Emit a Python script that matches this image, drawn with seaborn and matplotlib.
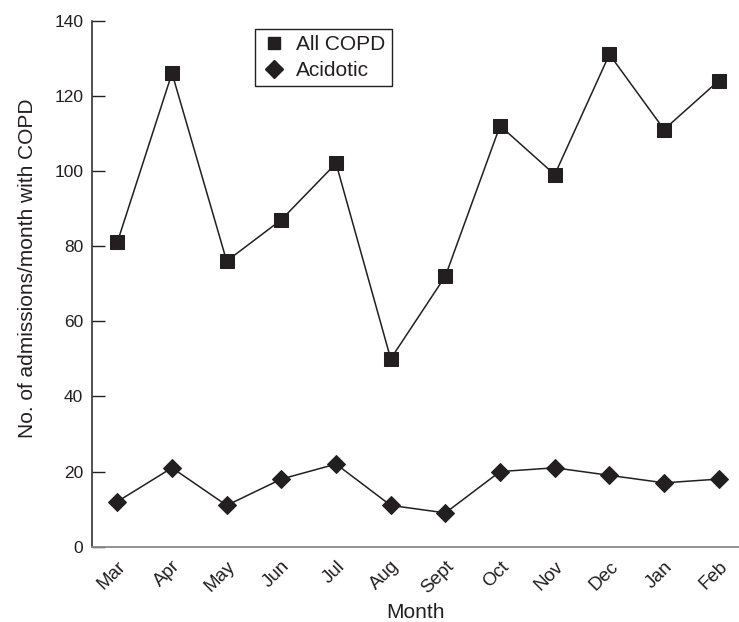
import numpy as np
import pandas as pd
import matplotlib
matplotlib.use("Agg")
import matplotlib.pyplot as plt
from matplotlib.lines import Line2D
import seaborn as sns

# === DATA ===
months = ["Mar", "Apr", "May", "Jun", "Jul", "Aug", "Sept", "Oct", "Nov", "Dec", "Jan", "Feb"]
all_copd = [81, 126, 76, 87, 102, 50, 72, 112, 99, 131, 111, 124]
acidotic = [12, 21, 11, 18, 22, 11, 9, 20, 21, 19, 17, 18]
y_ticks = [0, 20, 40, 60, 80, 100, 120, 140]

INK = "#231f20"

sns.set_theme(style="white")
plt.rcParams["font.family"] = ["Liberation Sans", "DejaVu Sans"]

df = pd.DataFrame({
    "pos": list(range(len(months))) * 2,
    "value": all_copd + acidotic,
    "series": ["All COPD"] * len(months) + ["Acidotic"] * len(months),
})

fig = plt.figure(figsize=(7.39, 6.22), dpi=100)
ax = fig.add_axes([0.124, 0.121, 0.876, 0.846])

sns.lineplot(data=df[df.series == "All COPD"], x="pos", y="value", ax=ax,
             color=INK, lw=1.1, marker="s", markersize=9.6, markeredgecolor=INK,
             markerfacecolor=INK, legend=False)
sns.lineplot(data=df[df.series == "Acidotic"], x="pos", y="value", ax=ax,
             color=INK, lw=1.1, marker="D", markersize=9.5, markeredgecolor=INK,
             markerfacecolor=INK, legend=False)

ax.set_xlim(-0.47, len(months) - 1 + 0.37)
ax.set_ylim(0, 140)
ax.set_yticks(y_ticks)
ax.set_xticks(range(len(months)))
ax.set_xticklabels(months, rotation=45, ha="right", rotation_mode="anchor", fontsize=13.5, color=INK)
ax.tick_params(axis="y", left=True, direction="in", length=9.5, width=1, color=INK,
               labelsize=12.5, labelcolor=INK, pad=6)
ax.tick_params(axis="x", bottom=False, length=0, pad=8)

for s in ["top", "right"]:
    ax.spines[s].set_visible(False)
ax.spines["left"].set_color(INK)
ax.spines["left"].set_linewidth(1.1)
ax.spines["bottom"].set_color("#8a8a8a")
ax.spines["bottom"].set_linewidth(1.3)

ax.set_xlabel("Month", fontsize=15, color=INK, labelpad=4)
ax.set_ylabel("No. of admissions/month with COPD", fontsize=15, color=INK)
ax.yaxis.set_label_coords(-0.085, 0.53)

handles = [
    Line2D([], [], linestyle="none", marker="s", markersize=9, color=INK, label="All COPD"),
    Line2D([], [], linestyle="none", marker="D", markersize=9.5, color=INK, label="Acidotic"),
]
leg = ax.legend(handles=handles, loc="upper left", bbox_to_anchor=(0.252, 0.984),
                fontsize=15, frameon=True, fancybox=False, framealpha=1,
                handletextpad=0.5, borderpad=0.3, labelspacing=0.32, handlelength=1.2,
                borderaxespad=0)
leg.get_frame().set_edgecolor(INK)
leg.get_frame().set_linewidth(1.0)
for t in leg.get_texts():
    t.set_color(INK)

fig.savefig("out.png", dpi=100)
